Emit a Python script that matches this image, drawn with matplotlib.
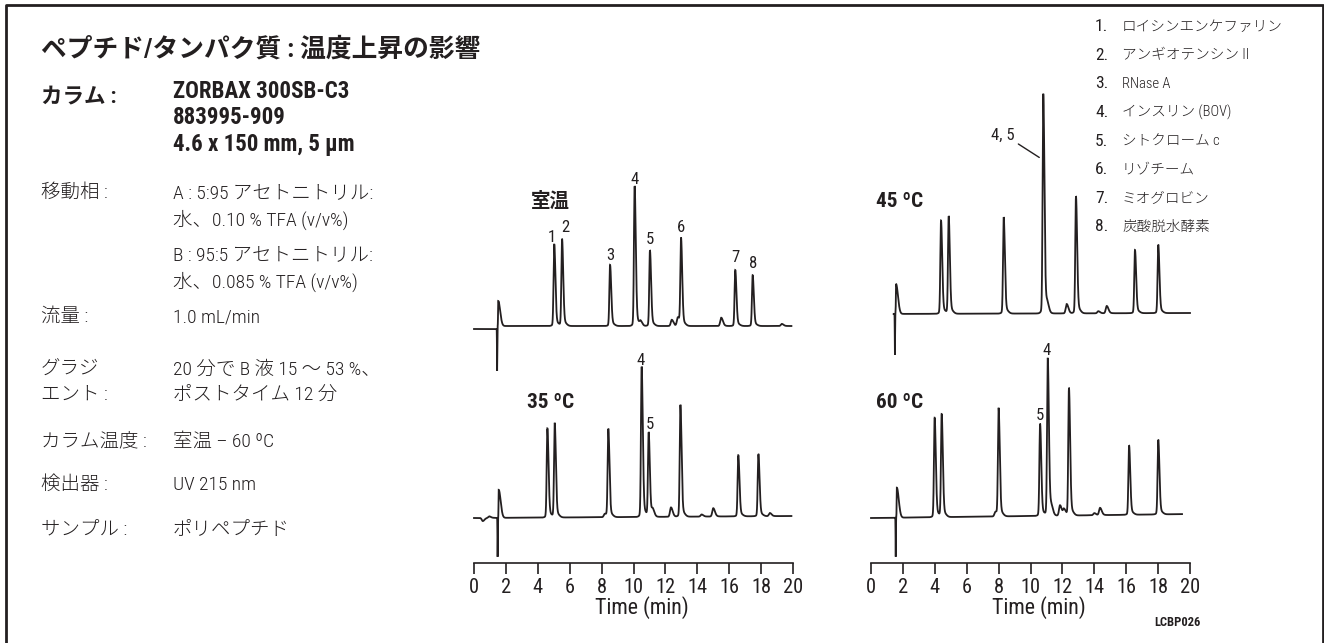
import numpy as np
import matplotlib
matplotlib.use("Agg")
import matplotlib.pyplot as plt
from matplotlib import font_manager
from matplotlib.lines import Line2D

##################################################
#-----------------Chart data----------------------
##################################################

# peak retention times (min) and heights (signal units) for peaks 1..8
rt_room = [5.03, 5.52, 8.53, 10.07, 11.03, 12.98, 16.38, 17.47]
h_room = [79, 84, 59, 135, 73, 84, 54, 49]
rt_35 = [4.60, 5.06, 8.42, 10.51, 10.95, 12.94, 16.57, 17.83]
h_35 = [86, 91, 85, 145, 81, 108, 59, 60]
rt_45 = [4.39, 4.87, 8.32, 10.80, 12.85, 16.55, 18.01]   # 4 and 5 co-elute
h_45 = [90, 94, 93, 212, 113, 61, 66]
rt_60 = [3.99, 4.43, 8.00, 11.08, 10.60, 12.41, 16.18, 18.01]
h_60 = [96, 99, 104, 152, 89, 123, 67, 72]

# small impurity bumps
minor_rt_room = [10.45, 12.40, 12.78, 15.50, 19.30]
minor_h_room = [4, 6, 8, 8, 2]
minor_rt_35 = [0.55, 0.95, 8.20, 11.20, 12.35, 14.27, 15.00, 18.55]
minor_h_35 = [-3, 1.5, 3, 6, 9, 2, 8, 3]
minor_rt_45 = [11.05, 12.27, 14.25, 14.78]
minor_h_45 = [6, 9, 2, 7]
minor_rt_60 = [7.80, 11.30, 11.85, 12.10, 14.00, 14.36]
minor_h_60 = [4, 6, 10, 6, 2, 7]

# injection disturbance: time, negative dip, positive rise
inj_room, dip_room, rise_room = 1.45, 42, 25
inj_35, dip_35, rise_35 = 1.48, 39, 28
inj_45, dip_45, rise_45 = 1.50, 41, 30
inj_60, dip_60, rise_60 = 1.55, 39, 30

# baseline level before / after injection, drift over the run, run window
base_room = (234, 237, 0)
base_35 = (45, 45, 2)
base_45 = (249, 249, 1)
base_60 = (45, 45, 4)
span_room = (0.0, 19.9)
span_35 = (0.0, 19.9)
span_45 = (1.42, 20.0)
span_60 = (0.0, 19.5)

labels_room = ["1", "2", "3", "4", "5", "6", "7", "8"]
xticks = list(range(0, 21, 2))
xlabel = "Time (min)"

title = "ペプチド/タンパク質 : 温度上昇の影響"
column_key = "カラム :"
column_lines = ["ZORBAX 300SB-C3", "883995-909", "4.6 x 150 mm, 5 µm"]
cond_keys = ["移動相 :", "流量 :", "グラジ", "エント :", "カラム温度 :", "検出器 :", "サンプル :"]
cond_vals = ["A : 5:95 アセトニトリル:", "水、0.10 % TFA (v/v%)",
             "B : 95:5 アセトニトリル:", "水、0.085 % TFA (v/v%)",
             "1.0 mL/min",
             "20 分で B 液 15 ～ 53 %、", "ポストタイム 12 分",
             "室温 – 60 ºC",
             "UV 215 nm",
             "ポリペプチド"]
compound_no = ["1.", "2.", "3.", "4.", "5.", "6.", "7.", "8."]
compound_names = ["ロイシンエンケファリン", "アンギオテンシン II", "RNase A", "インスリン (BOV)",
                  "シトクローム c", "リゾチーム", "ミオグロビン", "炭酸脱水酵素"]

##################################################
#-----------------Helpers-------------------------
##################################################

W, H = 1324, 643
INK = "#231f20"

names = {f.name for f in font_manager.fontManager.ttflist}
narrow = [n for n in ["Roboto Condensed", "Liberation Sans Narrow"] if n in names]
LAT = narrow[0] if narrow else "Liberation Sans"
FAM = [LAT, "Noto Sans CJK JP", "DejaVu Sans"]
# condensed fonts can use the true size, wide fonts are shrunk to keep the widths
k = 1.0 if narrow else 0.88


def fx(px):
    return px / W


def fy(py):
    return 1 - py / H


def peak(t, rt, h, w=0.042):
    s = np.where(t < rt, w, w * 1.7)
    y = h * np.exp(-0.5 * ((t - rt) / s) ** 2)
    y += 0.05 * h * np.exp(-0.5 * ((t - rt - 0.12) / 0.15) ** 2)
    return y


def trace(rts, hs, mrt, mh, inj, dip, rise, base, span):
    t = np.linspace(span[0], span[1], 20001)
    y = np.where(t < inj, base[0], base[1]) + base[2] * t / 20.0
    for rt, h in zip(rts, hs):
        y = y + peak(t, rt, h)
    for rt, h in zip(mrt, mh):
        y = y + peak(t, rt, h, 0.06)
    y = y - dip * np.exp(-0.5 * ((t - inj) / 0.01) ** 2)
    s = np.where(t < inj + 0.07, 0.012, 0.12)
    y = y + rise * np.exp(-0.5 * ((t - inj - 0.07) / s) ** 2)
    return t, y


def chrom_axes(left_px):
    ax = fig.add_axes([fx(left_px), fy(563), fx(319), 503 / H])
    ax.set_xlim(0, 20)
    ax.set_ylim(0, 503)
    for side in ["left", "right", "top"]:
        ax.spines[side].set_visible(False)
    ax.spines["bottom"].set_linewidth(1.2)
    ax.spines["bottom"].set_color(INK)
    ax.set_yticks([])
    ax.set_xticks(xticks)
    ax.tick_params(axis="x", direction="out", length=8, width=1.2, pad=3,
                   labelsize=15 * k * (0.98 if narrow else 0.98), colors=INK)
    for lab in ax.get_xticklabels():
        lab.set_fontfamily(FAM)
    ax.patch.set_alpha(0)
    return ax


def label_peaks(ax, rts, hs, base, labels, which, nudge=None):
    for n, i in enumerate(which):
        y = base[1] + base[2] * rts[i] / 20.0 + hs[i]
        dx, dy = nudge[n] if nudge else (0, 4)
        ax.annotate(labels[i], (rts[i], y), xytext=(dx, dy), textcoords="offset points",
                    ha="center", va="bottom", fontsize=12 * k, family=FAM, color=INK)


##################################################
#-----------------Figure--------------------------
##################################################

fig = plt.figure(figsize=(W / 100, H / 100), dpi=100)

# frame
fig.add_artist(Line2D([fx(5.5), fx(5.5), fx(1322.5), fx(1322.5)], [0, fy(4.5), fy(4.5), 0],
                      transform=fig.transFigure, color=INK, lw=2.0))

# left text block
fig.text(fx(41), fy(49), title, fontsize=18.5, weight="bold", family=FAM, color=INK, va="center")
fig.text(fx(41), fy(96), column_key, fontsize=15.5, weight="bold", family=FAM, color=INK,
         va="center")
for line, py in zip(column_lines, [91, 117.5, 144]):
    fig.text(fx(173), fy(py), line, fontsize=16 * k * 1.03, weight="bold", family=FAM, color=INK,
             va="center")

key_y = [193, 317, 370, 395, 441.5, 485, 530]
for key, py in zip(cond_keys, key_y):
    fig.text(fx(41), fy(py), key, fontsize=14, weight="light", family=FAM, color=INK,
             va="center")
val_y = [193, 220, 255, 281.5, 317, 370, 395, 441.5, 485, 530]
for val, py in zip(cond_vals, val_y):
    fig.text(fx(173), fy(py), val, fontsize=14, weight="light", family=FAM, color=INK,
             va="center")

# compound list
for i, (no, name) in enumerate(zip(compound_no, compound_names)):
    py = 26.7 + i * 28.6
    fig.text(fx(1095), fy(py), no, fontsize=12.5, family=FAM, color=INK, va="center")
    fig.text(fx(1122), fy(py), name, fontsize=10.5, weight="light", family=FAM, color=INK,
             va="center")

# chromatograms
ax_l = chrom_axes(474)
ax_r = chrom_axes(871)

for ax, args in [
    (ax_l, (rt_room, h_room, minor_rt_room, minor_h_room, inj_room, dip_room, rise_room, base_room, span_room)),
    (ax_l, (rt_35, h_35, minor_rt_35, minor_h_35, inj_35, dip_35, rise_35, base_35, span_35)),
    (ax_r, (rt_45, h_45, minor_rt_45, minor_h_45, inj_45, dip_45, rise_45, base_45, span_45)),
    (ax_r, (rt_60, h_60, minor_rt_60, minor_h_60, inj_60, dip_60, rise_60, base_60, span_60)),
]:
    t, y = trace(*args)
    ax.plot(t, y, color=INK, lw=1.3, clip_on=False, solid_joinstyle="miter")

label_peaks(ax_l, rt_room, h_room, base_room, labels_room, range(8),
            [(-2, 1.5), (2, 5), (0, 3), (0, 3), (0, 4), (0, 5), (0, 5), (0, 4)])
label_peaks(ax_l, rt_35, h_35, base_35, labels_room, [3, 4], [(-1, 3), (1, 3)])
label_peaks(ax_r, rt_60, h_60, base_60, labels_room, [3, 4], [(-1, 4), (0, 3)])

# co-eluting 4, 5 at 45 C with leader line
y45 = base_45[1] + base_45[2] * rt_45[3] / 20.0 + h_45[3]
ax_r.annotate("4, 5", (rt_45[3] - 0.25, y45 - 56), xytext=(rt_45[3] - 2.55, y45 - 34),
              textcoords="data", ha="center", va="center", fontsize=12 * k, family=FAM,
              color=INK,
              arrowprops=dict(arrowstyle="-", color=INK, lw=1.0, relpos=(1.0, 0.1),
                              shrinkA=1, shrinkB=0))

# panel titles
fig.text(fx(550), fy(201), "室温", fontsize=14, weight="bold", family=FAM, color=INK,
         ha="center", va="center")
for px, py, txt in [(551, 403, "35 ºC"), (900, 201.5, "45 ºC"), (900, 403, "60 ºC")]:
    fig.text(fx(px), fy(py), txt, fontsize=15 * k * 1.02, weight="bold", family=FAM, color=INK,
             ha="center", va="center")

# axis titles
fig.text(fx(642), fy(608), xlabel, fontsize=15 * k * 1.05, family=FAM, color=INK,
         ha="center", va="center")
fig.text(fx(1039), fy(608), xlabel, fontsize=15 * k * 1.05, family=FAM, color=INK,
         ha="center", va="center")
fig.text(fx(1177), fy(623), "LCBP026", fontsize=9 * k, weight="bold", family=FAM, color=INK,
         ha="center", va="center")

fig.savefig("out.png", dpi=100)
